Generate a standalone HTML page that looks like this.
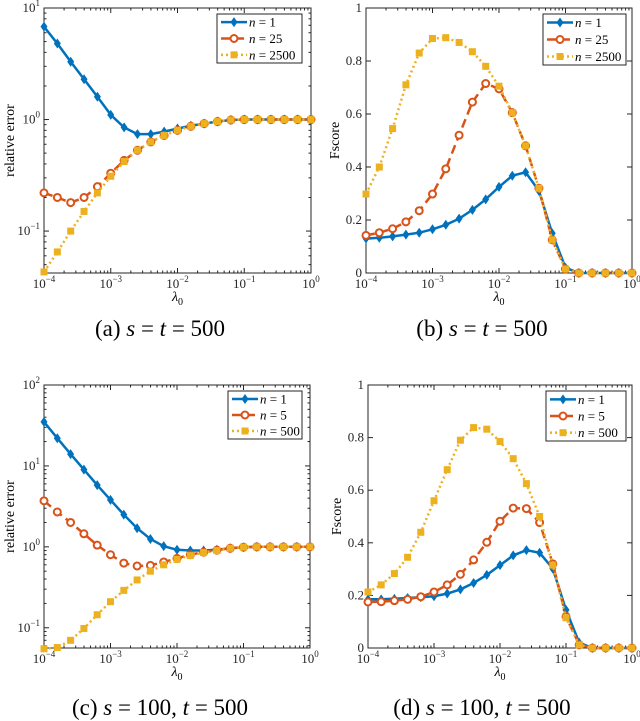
<!DOCTYPE html>
<html><head><meta charset="utf-8"><style>
html,body{margin:0;padding:0;background:#fff;}
svg{display:block;font-family:"Liberation Serif",serif;}
</style></head><body>
<svg id="fig" width="640" height="721" viewBox="0 0 640 721">
<text x="160" y="336" font-size="23" text-anchor="middle">(a) <tspan font-style="italic">s</tspan> = <tspan font-style="italic">t</tspan> = 500</text>
<text x="482" y="336" font-size="23" text-anchor="middle">(b) <tspan font-style="italic">s</tspan> = <tspan font-style="italic">t</tspan> = 500</text>
<text x="160" y="715" font-size="23" text-anchor="middle">(c) <tspan font-style="italic">s</tspan> = 100, <tspan font-style="italic">t</tspan> = 500</text>
<text x="482" y="715" font-size="23" text-anchor="middle">(d) <tspan font-style="italic">s</tspan> = 100, <tspan font-style="italic">t</tspan> = 500</text>
</svg>
<script>
const lambdaExp = [-4,-3.8,-3.6,-3.4,-3.2,-3,-2.8,-2.6,-2.4,-2.2,-2,-1.8,-1.6,-1.4,-1.2,-1,-0.8,-0.6,-0.4,-0.2,0];
const aBlue = [6.8,4.8,3.3,2.3,1.6,1.1,0.85,0.74,0.74,0.78,0.83,0.88,0.92,0.96,0.99,1,1,1,1,1,1];
const aRed = [0.22,0.20,0.18,0.20,0.25,0.33,0.43,0.53,0.63,0.72,0.80,0.87,0.92,0.96,0.99,1,1,1,1,1,1];
const aYellow = [0.043,0.065,0.10,0.15,0.22,0.31,0.42,0.53,0.63,0.72,0.80,0.87,0.92,0.96,0.99,1,1,1,1,1,1];
const bBlue = [.13,.133,.138,.145,.152,.165,.182,.205,.238,.278,.325,.367,.38,.31,.15,.02,0,0,0,0,0];
const bRed = [.142,.152,.167,.193,.235,.298,.393,.52,.645,.715,.695,.605,.48,.32,.125,.015,0,0,0,0,0];
const bYellow = [.298,.40,.545,.71,.83,.885,.888,.87,.835,.78,.705,.605,.48,.32,.125,.015,0,0,0,0,0];
const cBlue = [35,22,14,9,5.8,3.8,2.5,1.7,1.25,1.02,0.92,0.9,0.9,0.92,0.96,0.99,1,1,1,1,1];
const cRed = [3.7,2.7,2.0,1.45,1.05,0.8,0.63,0.58,0.59,0.65,0.72,0.8,0.86,0.91,0.96,0.99,1,1,1,1,1];
const cYellow = [0.055,0.057,0.07,0.098,0.145,0.21,0.29,0.39,0.5,0.6,0.7,0.78,0.85,0.9,0.96,0.99,1,1,1,1,1];
const dBlue = [.185,.185,.187,.19,.193,.197,.207,.223,.247,.278,.315,.352,.372,.362,.302,.145,.02,0,0,0,0];
const dRed = [.175,.176,.18,.185,.195,.213,.24,.28,.335,.402,.482,.532,.53,.477,.32,.12,.012,0,0,0,0];
const dYellow = [.213,.24,.283,.345,.44,.56,.678,.79,.838,.832,.785,.72,.625,.5,.315,.115,.012,0,0,0,0];
const xTickExps = [-4,-3,-2,-1,0];
const linTicks = ['0','0.2','0.4','0.6','0.8','1'];
const legendA = ['1','25','2500'];
const legendC = ['1','5','500'];

const NS='http://www.w3.org/2000/svg';
const svg=document.getElementById('fig');
const BLUE='#0072BD',RED='#D95319',YEL='#EDB120';
function mk(tag,attrs,parent){const e=document.createElementNS(NS,tag);for(const k in attrs)e.setAttribute(k,attrs[k]);(parent||svg).appendChild(e);return e;}

function panel(id,L,R,T,B,logY,ymin,ymax,series,legText,leg,ylabel){
  const g=mk('g',{});
  
  
  const xs=e=>L+(e+4)/4*(R-L);
  const ys=v=>{ if(logY){const lv=Math.log10(Math.max(v,1e-9));return B-(lv-ymin)/(ymax-ymin)*(B-T);} return B-(v-ymin)/(ymax-ymin)*(B-T);};
  mk('rect',{x:L,y:T,width:R-L,height:B-T,fill:'#fff',stroke:'#262626','stroke-width':1},g);
  for(let d=-4;d<=0;d++){
    const x=xs(d);
    mk('line',{x1:x,y1:B,x2:x,y2:B-5,stroke:'#262626'},g);mk('line',{x1:x,y1:T,x2:x,y2:T+5,stroke:'#262626'},g);
    if(d<0)for(let m=2;m<10;m++){const xm=xs(d+Math.log10(m));mk('line',{x1:xm,y1:B,x2:xm,y2:B-2.5,stroke:'#262626'},g);mk('line',{x1:xm,y1:T,x2:xm,y2:T+2.5,stroke:'#262626'},g);}
  }
  xTickExps.forEach(d=>{
    const t=mk('text',{x:xs(d),y:B+15,'font-size':13,'text-anchor':'middle',fill:'#262626'},g);
    
    
    t.innerHTML='10<tspan dy="-6" font-size="9">'+(d<0?'\u2212'+(-d):'0')+'</tspan>';
  });
  const xl=mk('text',{x:(L+R)/2,y:B+28,'font-size':14,'text-anchor':'middle','font-style':'italic'},g);
  
  
  xl.innerHTML='\u03bb<tspan dy="4" font-size="10" font-style="normal">0</tspan>';
  if(logY){
    for(let d=Math.floor(ymin);d<=ymax;d++){
      if(d>=ymin){const y=ys(Math.pow(10,d));
        mk('line',{x1:L,y1:y,x2:L+5,y2:y,stroke:'#262626'},g);mk('line',{x1:R,y1:y,x2:R-5,y2:y,stroke:'#262626'},g);
        const t=mk('text',{x:L-4,y:y+4,'font-size':13,'text-anchor':'end',fill:'#262626'},g);
        
        
        t.innerHTML='10<tspan dy="-6" font-size="9">'+(d<0?'\u2212'+(-d):d)+'</tspan>';}
      for(let m=2;m<10;m++){const lv=d+Math.log10(m);if(lv>ymin&&lv<ymax){const y=ys(Math.pow(10,lv));mk('line',{x1:L,y1:y,x2:L+2.5,y2:y,stroke:'#262626'},g);mk('line',{x1:R,y1:y,x2:R-2.5,y2:y,stroke:'#262626'},g);}}
    }
  } else {
    linTicks.forEach(s=>{const v=parseFloat(s);const y=ys(v);
      mk('line',{x1:L,y1:y,x2:L+5,y2:y,stroke:'#262626'},g);mk('line',{x1:R,y1:y,x2:R-5,y2:y,stroke:'#262626'},g);
      const t=mk('text',{x:L-4,y:y+4,'font-size':13,'text-anchor':'end',fill:'#262626'},g);
      
      
      t.textContent=s;});
  }
  const yl=mk('text',{x:0,y:0,'font-size':14,'text-anchor':'middle',transform:'translate('+(L-(logY?30:27))+','+((T+B)/2)+') rotate(-90)'},g);
  
  
  yl.textContent=ylabel;
  const styles=[{c:BLUE,dash:'',m:'d'},{c:RED,dash:'9,5',m:'o'},{c:YEL,dash:'2,3',m:'s'}];
  const names=['blue','red','yellow'];
  series.forEach((vals,i)=>{
    const st=styles[i];
    const pts=vals.map((v,k)=>xs(lambdaExp[k]).toFixed(1)+','+ys(v).toFixed(1)).join(' ');
    const pl=mk('polyline',{points:pts,fill:'none',stroke:st.c,'stroke-width':2.5,'stroke-dasharray':st.dash},g);
    
    
    vals.forEach((v,k)=>{
      const x=xs(lambdaExp[k]),y=ys(v);let m;
      if(st.m==='d')m=mk('polygon',{points:`${x},${y-5} ${x+3.5},${y} ${x},${y+5} ${x-3.5},${y}`,fill:st.c},g);
      else if(st.m==='o')m=mk('circle',{cx:x,cy:y,r:3.5,fill:'#fff',stroke:st.c,'stroke-width':2},g);
      else m=mk('rect',{x:x-3.5,y:y-3.5,width:7,height:7,fill:st.c},g);
      
      
    });
  });
  const lg=mk('g',{},g);
  
  
  mk('rect',{x:leg[0],y:leg[1],width:leg[2]-leg[0],height:leg[3]-leg[1],fill:'#fff',stroke:'#262626'},lg);
  const rowH=(leg[3]-leg[1])/3;
  legText.forEach((s,i)=>{
    const st=styles[i];const y=leg[1]+rowH*(i+0.5);
    mk('line',{x1:leg[0]+4,y1:y,x2:leg[0]+30,y2:y,stroke:st.c,'stroke-width':2.5,'stroke-dasharray':st.dash},lg);
    const x=leg[0]+17;
    if(st.m==='d')mk('polygon',{points:`${x},${y-5} ${x+3.5},${y} ${x},${y+5} ${x-3.5},${y}`,fill:st.c},lg);
    else if(st.m==='o')mk('circle',{cx:x,cy:y,r:3.5,fill:'#fff',stroke:st.c,'stroke-width':2},lg);
    else mk('rect',{x:x-3.5,y:y-3.5,width:7,height:7,fill:st.c},lg);
    const t=mk('text',{x:leg[0]+32,y:y+4.5,'font-size':13},lg);
    
    
    t.innerHTML='<tspan font-style="italic">n</tspan> = '+s;
  });
}
panel('a',44,311,8,273,true,-1.376,1,[aBlue,aRed,aYellow],legendA,[217,14,302,63],'relative error');
panel('b',366,632,8,273,false,0,1,[bBlue,bRed,bYellow],legendA,[543,14,626,65],'Fscore');
panel('c',44,310,385,648,true,-1.25,2,[cBlue,cRed,cYellow],legendC,[228,391,302,439],'relative error');
panel('d',368,632,385,648,false,0,1,[dBlue,dRed,dYellow],legendC,[546,391,626,441],'Fscore');
</script>
</body></html>
